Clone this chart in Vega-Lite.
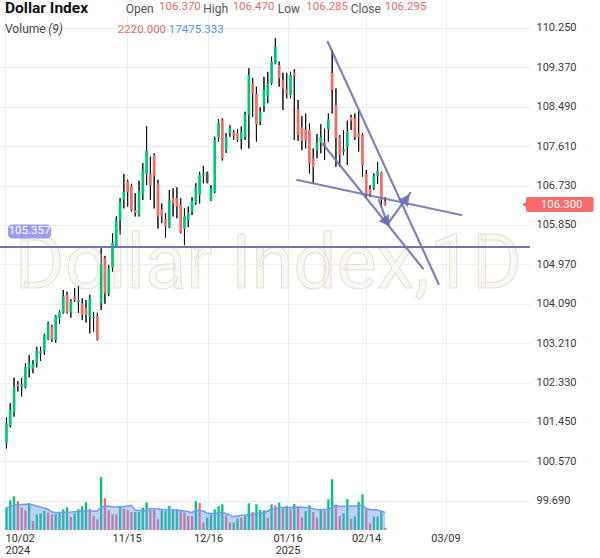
{
"$schema":"https://vega.github.io/schema/vega-lite/v6.json",
"width":530,"height":530,
"autosize":{"type":"none"},
"padding":{"left":0,"top":0,"right":70,"bottom":28},
"background":"white",
"config":{"view":{"stroke":null},"font":"Roboto","text":{"font":"Roboto"}},
"datasets":{
"candles":[
{"i":0,"o":100.97,"h":101.55,"l":100.86,"c":101.42,"v":22400,"vd":"u","ma":22400},
{"i":1,"o":101.37,"h":101.87,"l":101.33,"c":101.73,"v":29700,"vd":"u","ma":23500},
{"i":2,"o":101.66,"h":102.44,"l":101.57,"c":102.25,"v":33700,"vd":"u","ma":25000},
{"i":3,"o":102.29,"h":102.36,"l":102.13,"c":102.25,"v":28700,"vd":"d","ma":25300},
{"i":4,"o":102.23,"h":102.43,"l":102.02,"c":102.29,"v":22400,"vd":"d","ma":25500},
{"i":5,"o":102.22,"h":102.76,"l":102.2,"c":102.68,"v":19700,"vd":"d","ma":25700},
{"i":6,"o":102.63,"h":102.94,"l":102.45,"c":102.76,"v":27000,"vd":"u","ma":25700},
{"i":7,"o":102.64,"h":102.83,"l":102.54,"c":102.74,"v":9000,"vd":"d","ma":25000},
{"i":8,"o":102.76,"h":103.13,"l":102.67,"c":103.06,"v":15700,"vd":"u","ma":24000},
{"i":9,"o":102.98,"h":103.13,"l":102.81,"c":103.03,"v":16700,"vd":"u","ma":23000},
{"i":10,"o":103.04,"h":103.42,"l":102.95,"c":103.39,"v":19000,"vd":"u","ma":21800},
{"i":11,"o":103.3,"h":103.69,"l":103.28,"c":103.64,"v":17400,"vd":"d","ma":20700},
{"i":12,"o":103.58,"h":103.62,"l":103.24,"c":103.3,"v":15700,"vd":"d","ma":18000},
{"i":13,"o":103.28,"h":103.84,"l":103.22,"c":103.82,"v":15700,"vd":"u","ma":17400},
{"i":14,"o":103.78,"h":103.95,"l":103.64,"c":103.91,"v":17400,"vd":"u","ma":17500},
{"i":15,"o":103.89,"h":104.4,"l":103.87,"c":104.26,"v":20700,"vd":"u","ma":17700},
{"i":16,"o":104.3,"h":104.36,"l":103.87,"c":103.89,"v":22700,"vd":"u","ma":17800},
{"i":17,"o":103.89,"h":104.19,"l":103.78,"c":104.14,"v":13000,"vd":"d","ma":18000},
{"i":18,"o":104.26,"h":104.44,"l":104.13,"c":104.17,"v":16400,"vd":"u","ma":18300},
{"i":19,"o":104.12,"h":104.49,"l":103.89,"c":104.17,"v":20700,"vd":"u","ma":18700},
{"i":20,"o":104.1,"h":104.21,"l":103.73,"c":103.84,"v":23700,"vd":"u","ma":19000},
{"i":21,"o":104.0,"h":104.17,"l":103.67,"c":103.84,"v":27700,"vd":"u","ma":19000},
{"i":22,"o":103.79,"h":104.29,"l":103.43,"c":104.21,"v":21400,"vd":"d","ma":19000},
{"i":23,"o":103.77,"h":103.91,"l":103.47,"c":103.8,"v":14000,"vd":"d","ma":19000},
{"i":24,"o":103.82,"h":103.89,"l":103.27,"c":103.28,"v":10700,"vd":"d","ma":19000},
{"i":25,"o":104.1,"h":105.33,"l":103.95,"c":104.97,"v":53000,"vd":"u","ma":23000},
{"i":26,"o":105.11,"h":105.16,"l":104.09,"c":104.32,"v":31700,"vd":"d","ma":24000},
{"i":27,"o":104.32,"h":104.96,"l":104.26,"c":104.88,"v":19700,"vd":"d","ma":23700},
{"i":28,"o":104.9,"h":105.66,"l":104.81,"c":105.45,"v":15700,"vd":"d","ma":23300},
{"i":29,"o":105.37,"h":106.04,"l":105.35,"c":105.95,"v":15700,"vd":"d","ma":23000},
{"i":30,"o":105.95,"h":106.45,"l":105.63,"c":106.37,"v":23700,"vd":"u","ma":23200},
{"i":31,"o":106.41,"h":106.99,"l":106.22,"c":106.59,"v":21400,"vd":"d","ma":23400},
{"i":32,"o":106.82,"h":106.86,"l":106.26,"c":106.59,"v":19700,"vd":"d","ma":24000},
{"i":33,"o":106.71,"h":106.77,"l":106.15,"c":106.18,"v":18000,"vd":"d","ma":24700},
{"i":34,"o":106.18,"h":106.56,"l":106.04,"c":106.12,"v":18000,"vd":"u","ma":20000},
{"i":35,"o":106.07,"h":106.84,"l":106.04,"c":106.61,"v":18000,"vd":"u","ma":19500},
{"i":36,"o":106.53,"h":107.23,"l":106.41,"c":107.08,"v":22400,"vd":"u","ma":19000},
{"i":37,"o":106.99,"h":108.06,"l":106.74,"c":107.51,"v":27700,"vd":"u","ma":20200},
{"i":38,"o":106.99,"h":107.38,"l":106.41,"c":106.74,"v":20000,"vd":"d","ma":21400},
{"i":39,"o":107.41,"h":107.45,"l":106.22,"c":106.95,"v":20000,"vd":"d","ma":21200},
{"i":40,"o":106.78,"h":106.86,"l":105.77,"c":106.04,"v":10700,"vd":"d","ma":21000},
{"i":41,"o":106.2,"h":106.33,"l":105.89,"c":106.04,"v":19700,"vd":"u","ma":20700},
{"i":42,"o":105.98,"h":106.11,"l":105.57,"c":105.81,"v":19000,"vd":"u","ma":20500},
{"i":43,"o":105.8,"h":106.63,"l":105.78,"c":106.41,"v":24000,"vd":"u","ma":20300},
{"i":44,"o":106.45,"h":106.67,"l":106.04,"c":106.33,"v":20700,"vd":"u","ma":20000},
{"i":45,"o":106.45,"h":106.69,"l":106.0,"c":106.26,"v":20700,"vd":"u","ma":19800},
{"i":46,"o":106.3,"h":106.45,"l":105.66,"c":105.68,"v":19000,"vd":"d","ma":19400},
{"i":47,"o":105.76,"h":106.22,"l":105.4,"c":106.04,"v":17400,"vd":"d","ma":19000},
{"i":48,"o":105.96,"h":106.26,"l":105.8,"c":106.12,"v":14000,"vd":"d","ma":18200},
{"i":49,"o":106.15,"h":106.47,"l":106.07,"c":106.39,"v":14000,"vd":"d","ma":17400},
{"i":50,"o":106.35,"h":106.78,"l":106.3,"c":106.69,"v":28700,"vd":"u","ma":20000},
{"i":51,"o":106.52,"h":107.04,"l":106.33,"c":106.97,"v":27000,"vd":"d","ma":19600},
{"i":52,"o":106.95,"h":107.17,"l":106.78,"c":107.0,"v":7400,"vd":"d","ma":19000},
{"i":53,"o":107.02,"h":107.04,"l":106.78,"c":106.8,"v":12400,"vd":"u","ma":16700},
{"i":54,"o":106.41,"h":106.74,"l":106.39,"c":106.67,"v":15700,"vd":"u","ma":16500},
{"i":55,"o":106.59,"h":107.82,"l":106.56,"c":107.75,"v":20700,"vd":"u","ma":16400},
{"i":56,"o":107.81,"h":108.21,"l":107.71,"c":108.13,"v":24000,"vd":"u","ma":16900},
{"i":57,"o":108.19,"h":108.23,"l":107.29,"c":107.34,"v":25700,"vd":"u","ma":17600},
{"i":58,"o":107.51,"h":107.9,"l":107.46,"c":107.81,"v":14700,"vd":"d","ma":16500},
{"i":59,"o":107.9,"h":108.08,"l":107.82,"c":108.02,"v":7400,"vd":"d","ma":14800},
{"i":60,"o":107.92,"h":107.97,"l":107.75,"c":107.84,"v":7400,"vd":"u","ma":13400},
{"i":61,"o":107.9,"h":107.99,"l":107.71,"c":107.76,"v":11400,"vd":"u","ma":14000},
{"i":62,"o":107.77,"h":108.05,"l":107.54,"c":107.93,"v":12400,"vd":"d","ma":14700},
{"i":63,"o":107.82,"h":108.38,"l":107.75,"c":108.31,"v":14000,"vd":"u","ma":15000},
{"i":64,"o":108.31,"h":109.35,"l":107.56,"c":109.2,"v":26700,"vd":"u","ma":15400},
{"i":65,"o":109.01,"h":109.13,"l":108.26,"c":108.78,"v":18000,"vd":"d","ma":15700},
{"i":66,"o":108.78,"h":108.94,"l":107.71,"c":108.1,"v":25700,"vd":"u","ma":16200},
{"i":67,"o":108.16,"h":108.48,"l":108.08,"c":108.37,"v":20000,"vd":"u","ma":16700},
{"i":68,"o":108.51,"h":109.16,"l":108.38,"c":108.87,"v":19700,"vd":"u","ma":17200},
{"i":69,"o":108.72,"h":109.27,"l":108.57,"c":109.01,"v":12000,"vd":"d","ma":19000},
{"i":70,"o":109.01,"h":109.61,"l":108.98,"c":109.5,"v":25700,"vd":"u","ma":20700},
{"i":71,"o":109.46,"h":110.02,"l":109.44,"c":109.83,"v":24700,"vd":"d","ma":21500},
{"i":72,"o":109.42,"h":109.5,"l":108.94,"c":109.13,"v":27400,"vd":"u","ma":22400},
{"i":73,"o":109.09,"h":109.25,"l":108.42,"c":108.9,"v":21400,"vd":"d","ma":22400},
{"i":74,"o":108.88,"h":109.25,"l":108.68,"c":108.79,"v":24000,"vd":"u","ma":22400},
{"i":75,"o":108.75,"h":109.27,"l":108.68,"c":109.2,"v":21400,"vd":"d","ma":22400},
{"i":76,"o":109.25,"h":109.33,"l":107.75,"c":109.18,"v":26000,"vd":"u","ma":22700},
{"i":77,"o":108.44,"h":108.64,"l":107.73,"c":107.86,"v":22400,"vd":"d","ma":23000},
{"i":78,"o":108.03,"h":108.28,"l":107.52,"c":107.73,"v":12400,"vd":"d","ma":22800},
{"i":79,"o":107.99,"h":108.34,"l":107.56,"c":107.73,"v":19000,"vd":"u","ma":22600},
{"i":80,"o":107.97,"h":108.12,"l":107.0,"c":107.23,"v":24700,"vd":"u","ma":22400},
{"i":81,"o":107.34,"h":107.56,"l":106.77,"c":107.15,"v":18000,"vd":"d","ma":21400},
{"i":82,"o":107.52,"h":107.88,"l":107.34,"c":107.69,"v":12400,"vd":"d","ma":20200},
{"i":83,"o":107.69,"h":108.1,"l":107.45,"c":107.82,"v":19700,"vd":"u","ma":20200},
{"i":84,"o":107.7,"h":108.0,"l":107.3,"c":107.61,"v":19000,"vd":"d","ma":20500},
{"i":85,"o":107.99,"h":108.34,"l":107.71,"c":108.21,"v":30700,"vd":"u","ma":20700},
{"i":86,"o":109.24,"h":109.76,"l":108.34,"c":108.86,"v":50700,"vd":"u","ma":23000},
{"i":87,"o":108.53,"h":108.9,"l":107.15,"c":107.79,"v":24000,"vd":"d","ma":25000},
{"i":88,"o":107.82,"h":107.86,"l":107.15,"c":107.41,"v":14000,"vd":"d","ma":23400},
{"i":89,"o":107.49,"h":107.97,"l":107.41,"c":107.54,"v":16700,"vd":"u","ma":23700},
{"i":90,"o":107.59,"h":108.18,"l":107.19,"c":107.93,"v":30700,"vd":"u","ma":24000},
{"i":91,"o":108.26,"h":108.31,"l":107.97,"c":108.18,"v":11400,"vd":"d","ma":24000},
{"i":92,"o":108.23,"h":108.34,"l":107.75,"c":107.82,"v":13400,"vd":"u","ma":24000},
{"i":93,"o":107.9,"h":108.42,"l":107.49,"c":107.81,"v":28000,"vd":"u","ma":24500},
{"i":94,"o":107.86,"h":107.9,"l":106.93,"c":107.19,"v":35700,"vd":"u","ma":25000},
{"i":95,"o":106.99,"h":107.08,"l":106.45,"c":106.54,"v":20700,"vd":"d","ma":21500},
{"i":96,"o":106.65,"h":106.74,"l":106.48,"c":106.54,"v":6700,"vd":"d","ma":20500},
{"i":97,"o":106.69,"h":107.0,"l":106.63,"c":106.95,"v":13400,"vd":"u","ma":20300},
{"i":98,"o":106.95,"h":107.26,"l":106.77,"c":107.06,"v":13400,"vd":"u","ma":20000},
{"i":99,"o":107.02,"h":107.04,"l":106.26,"c":106.41,"v":19000,"vd":"u","ma":18700},
{"i":100,"o":106.37,"h":106.47,"l":106.285,"c":106.295,"v":2220,"vd":"d","ma":17475.333}
],
"draw":[
{"x1":84.84,"p1":109.937,"x2":114.12,"p2":104.532},
{"x1":76.81,"p1":106.855,"x2":120.08,"p2":106.073},
{"x1":83.55,"p1":107.659,"x2":109.97,"p2":104.878},
{"x1":98.32,"p1":106.408,"x2":100.65,"p2":105.872},
{"x1":100.65,"p1":105.872,"x2":106.61,"p2":106.565}
]
},
"layer":[
{"data":{"name":"candles"},"mark":{"type":"rule","color":"#111111","strokeWidth":1},
 "encoding":{
  "x":{"field":"i","type":"quantitative","scale":{"domain":[-0.389,136.92],"nice":false,"zero":false},
   "axis":{"orient":"bottom","values":[-0.389,31.74,53.24,74.22,94.95,115.93],"labelExpr":"datum.value < 10 ? ['10/02','2024'] : datum.value < 40 ? '11/15' : datum.value < 60 ? '12/16' : datum.value < 80 ? ['01/16','2025'] : datum.value < 100 ? '02/14' : '03/09'","title":null,"grid":true,"gridColor":"#eeeeee","domain":false,"ticks":false,"labelFlush":false,"labelAlign":{"condition":{"test":"datum.value < 1","value":"left"},"value":"center"},"labelFontSize":11,"labelColor":"#333333","labelPadding":2,"labelLineHeight":12,"labelBaseline":"top","labelOverlap":false}},
  "y":{"field":"l","type":"quantitative","scale":{"domain":[99.037,110.875],"nice":false,"zero":false},
   "axis":{"orient":"right","values":[99.69,100.57,101.45,102.33,103.21,104.09,104.97,105.85,106.73,107.61,108.49,109.37,110.25],"format":".3f","title":null,"grid":true,"gridColor":"#eeeeee","domain":false,"ticks":false,"labelFontSize":11,"labelColor":"#3a3a3a","labelPadding":6,"labelAlign":"left","labelOverlap":false}},
  "y2":{"field":"h"}}},
{"data":{"values":[{}]},"mark":{"type":"text","text":"Dollar Index,1D","fontSize":76,"align":"left","baseline":"alphabetic","fill":"#faf8f4","stroke":"#e6e0d3","strokeWidth":1},
 "encoding":{"x":{"datum":2.2,"type":"quantitative","axis":null},"y":{"datum":104.443,"type":"quantitative","scale":{"domain":[99.037,110.875],"nice":false,"zero":false},"axis":null}}},
{"data":{"name":"candles"},"mark":{"type":"rule","color":"#111111","strokeWidth":1},
 "encoding":{"x":{"field":"i","type":"quantitative","axis":null},"y":{"field":"l","type":"quantitative","scale":{"domain":[99.037,110.875],"nice":false,"zero":false},"axis":null},"y2":{"field":"h"}}},
{"data":{"name":"candles"},"mark":{"type":"bar","width":2.7},
 "encoding":{"x":{"field":"i","type":"quantitative","axis":null},"y":{"field":"o","type":"quantitative","scale":{"domain":[99.037,110.875],"nice":false,"zero":false},"axis":null},"y2":{"field":"c"},
  "color":{"condition":[{"test":"datum.i === 53","value":"#555555"},{"test":"datum.c >= datum.o","value":"#00c67a"}],"value":"#f66a66"}}},
{"data":{"name":"candles"},"mark":{"type":"bar","width":2.3},
 "encoding":{"x":{"field":"i","type":"quantitative","axis":null},
  "y":{"field":"v","type":"quantitative","scale":{"domain":[0,530000],"nice":false},"axis":null},
  "color":{"field":"vd","type":"nominal","scale":{"domain":["u","d"],"range":["#00c67a","#f66a66"]},"legend":null}}},
{"data":{"name":"candles"},"mark":{"type":"area","color":"#6e9bf2","opacity":0.45},
 "encoding":{"x":{"field":"i","type":"quantitative","axis":null},"y":{"field":"ma","type":"quantitative","scale":{"domain":[0,530000],"nice":false},"axis":null}}},
{"data":{"name":"candles"},"mark":{"type":"line","color":"#6e9bf2","strokeWidth":1.5},
 "encoding":{"x":{"field":"i","type":"quantitative","axis":null},"y":{"field":"ma","type":"quantitative","scale":{"domain":[0,530000],"nice":false},"axis":null}}},
{"data":{"values":[{}]},"mark":{"type":"rule","color":"#7373b5","strokeWidth":2},
 "encoding":{"y":{"datum":105.357,"type":"quantitative","scale":{"domain":[99.037,110.875],"nice":false,"zero":false},"axis":null}}},
{"data":{"name":"draw"},"mark":{"type":"rule","color":"#6c6cb6","strokeWidth":2.2,"opacity":0.85,"strokeCap":"round"},
 "encoding":{"x":{"field":"x1","type":"quantitative","axis":null},"y":{"field":"p1","type":"quantitative","scale":{"domain":[99.037,110.875],"nice":false,"zero":false},"axis":null},"x2":{"field":"x2"},"y2":{"field":"p2"}}},
{"data":{"values":[{}]},"mark":{"type":"point","shape":"triangle-up","filled":true,"size":150,"angle":145,"color":"#6c6cb6","opacity":0.9},
 "encoding":{"x":{"datum":100.39,"type":"quantitative","axis":null},"y":{"datum":105.917,"type":"quantitative","scale":{"domain":[99.037,110.875],"nice":false,"zero":false},"axis":null}}},
{"data":{"values":[{}]},"mark":{"type":"point","shape":"triangle-up","filled":true,"size":150,"angle":37,"color":"#6c6cb6","opacity":0.9},
 "encoding":{"x":{"datum":105.57,"type":"quantitative","axis":null},"y":{"datum":106.43,"type":"quantitative","scale":{"domain":[99.037,110.875],"nice":false,"zero":false},"axis":null}}},
{"data":{"values":[{}]},"mark":{"type":"rect","color":"#9c9cf4","cornerRadius":4},
 "encoding":{"x":{"datum":0.39,"type":"quantitative","axis":null},"x2":{"datum":11.79},"y":{"datum":105.861,"type":"quantitative","scale":{"domain":[99.037,110.875],"nice":false,"zero":false},"axis":null},"y2":{"datum":105.548}}},
{"data":{"values":[{}]},"mark":{"type":"text","text":"105.357","color":"#ffffff","fontSize":11.5,"align":"center","baseline":"middle"},
 "encoding":{"x":{"datum":6.09,"type":"quantitative","axis":null},"y":{"datum":105.705,"type":"quantitative","scale":{"domain":[99.037,110.875],"nice":false,"zero":false},"axis":null}}},
{"data":{"values":[{}]},"mark":{"type":"rect","color":"#f76b6b","cornerRadius":2},
 "encoding":{"x":{"datum":137.18,"type":"quantitative","axis":null},"x2":{"datum":155.05},"y":{"datum":106.475,"type":"quantitative","scale":{"domain":[99.037,110.875],"nice":false,"zero":false},"axis":null},"y2":{"datum":106.14}}},
{"data":{"values":[{}]},"mark":{"type":"point","shape":"triangle-left","filled":true,"size":30,"color":"#f76b6b","opacity":1},
 "encoding":{"x":{"datum":136.75,"type":"quantitative","axis":null},"y":{"datum":106.308,"type":"quantitative","scale":{"domain":[99.037,110.875],"nice":false,"zero":false},"axis":null}}},
{"data":{"values":[{}]},"mark":{"type":"text","text":"106.300","color":"#ffffff","fontSize":11.5,"align":"center","baseline":"middle"},
 "encoding":{"x":{"datum":146.6,"type":"quantitative","axis":null},"y":{"datum":106.307,"type":"quantitative","scale":{"domain":[99.037,110.875],"nice":false,"zero":false},"axis":null}}},
{"data":{"values":[{}]},"mark":{"type":"text","text":"Dollar Index","fontSize":15.5,"fontWeight":"bold","color":"#111111","align":"left","baseline":"alphabetic"},
 "encoding":{"x":{"datum":-0.389,"type":"quantitative","axis":null},"y":{"datum":110.585,"type":"quantitative","scale":{"domain":[99.037,110.875],"nice":false,"zero":false},"axis":null}}},
{"data":{"values":[{}]},"mark":{"type":"text","text":"Open","fontSize":12,"color":"#555555","align":"left","baseline":"alphabetic"},
 "encoding":{"x":{"datum":31.48,"type":"quantitative","axis":null},"y":{"datum":110.592,"type":"quantitative","scale":{"domain":[99.037,110.875],"nice":false,"zero":false},"axis":null}}},
{"data":{"values":[{}]},"mark":{"type":"text","text":"106.370","fontSize":11.5,"color":"#ec6a66","align":"left","baseline":"alphabetic"},
 "encoding":{"x":{"datum":40.28,"type":"quantitative","axis":null},"y":{"datum":110.652,"type":"quantitative","scale":{"domain":[99.037,110.875],"nice":false,"zero":false},"axis":null}}},
{"data":{"values":[{}]},"mark":{"type":"text","text":"High","fontSize":12,"color":"#555555","align":"left","baseline":"alphabetic"},
 "encoding":{"x":{"datum":51.94,"type":"quantitative","axis":null},"y":{"datum":110.592,"type":"quantitative","scale":{"domain":[99.037,110.875],"nice":false,"zero":false},"axis":null}}},
{"data":{"values":[{}]},"mark":{"type":"text","text":"106.470","fontSize":11.5,"color":"#ec6a66","align":"left","baseline":"alphabetic"},
 "encoding":{"x":{"datum":59.72,"type":"quantitative","axis":null},"y":{"datum":110.652,"type":"quantitative","scale":{"domain":[99.037,110.875],"nice":false,"zero":false},"axis":null}}},
{"data":{"values":[{}]},"mark":{"type":"text","text":"Low","fontSize":12,"color":"#555555","align":"left","baseline":"alphabetic"},
 "encoding":{"x":{"datum":71.63,"type":"quantitative","axis":null},"y":{"datum":110.592,"type":"quantitative","scale":{"domain":[99.037,110.875],"nice":false,"zero":false},"axis":null}}},
{"data":{"values":[{}]},"mark":{"type":"text","text":"106.285","fontSize":11.5,"color":"#ec6a66","align":"left","baseline":"alphabetic"},
 "encoding":{"x":{"datum":79.15,"type":"quantitative","axis":null},"y":{"datum":110.652,"type":"quantitative","scale":{"domain":[99.037,110.875],"nice":false,"zero":false},"axis":null}}},
{"data":{"values":[{}]},"mark":{"type":"text","text":"Close","fontSize":12,"color":"#555555","align":"left","baseline":"alphabetic"},
 "encoding":{"x":{"datum":90.9,"type":"quantitative","axis":null},"y":{"datum":110.592,"type":"quantitative","scale":{"domain":[99.037,110.875],"nice":false,"zero":false},"axis":null}}},
{"data":{"values":[{}]},"mark":{"type":"text","text":"106.295","fontSize":11.5,"color":"#ec6a66","align":"left","baseline":"alphabetic"},
 "encoding":{"x":{"datum":99.87,"type":"quantitative","axis":null},"y":{"datum":110.652,"type":"quantitative","scale":{"domain":[99.037,110.875],"nice":false,"zero":false},"axis":null}}},
{"data":{"values":[{}]},"mark":{"type":"text","text":"Volume","fontSize":12,"color":"#444444","align":"left","baseline":"alphabetic"},
 "encoding":{"x":{"datum":-0.389,"type":"quantitative","axis":null},"y":{"datum":110.13,"type":"quantitative","scale":{"domain":[99.037,110.875],"nice":false,"zero":false},"axis":null}}},
{"data":{"values":[{}]},"mark":{"type":"text","text":"(9)","fontSize":12,"fontStyle":"italic","color":"#444444","align":"left","baseline":"alphabetic"},
 "encoding":{"x":{"datum":11.01,"type":"quantitative","axis":null},"y":{"datum":110.13,"type":"quantitative","scale":{"domain":[99.037,110.875],"nice":false,"zero":false},"axis":null}}},
{"data":{"values":[{}]},"mark":{"type":"text","text":"2220.000","fontSize":11.5,"color":"#ec6a66","align":"left","baseline":"alphabetic"},
 "encoding":{"x":{"datum":29.4,"type":"quantitative","axis":null},"y":{"datum":110.13,"type":"quantitative","scale":{"domain":[99.037,110.875],"nice":false,"zero":false},"axis":null}}},
{"data":{"values":[{}]},"mark":{"type":"text","text":"17475.333","fontSize":11.5,"color":"#5a8ef0","align":"left","baseline":"alphabetic"},
 "encoding":{"x":{"datum":42.88,"type":"quantitative","axis":null},"y":{"datum":110.13,"type":"quantitative","scale":{"domain":[99.037,110.875],"nice":false,"zero":false},"axis":null}}}
],
"resolve":{"scale":{"y":"independent"},"axis":{"x":"independent"}}
}
